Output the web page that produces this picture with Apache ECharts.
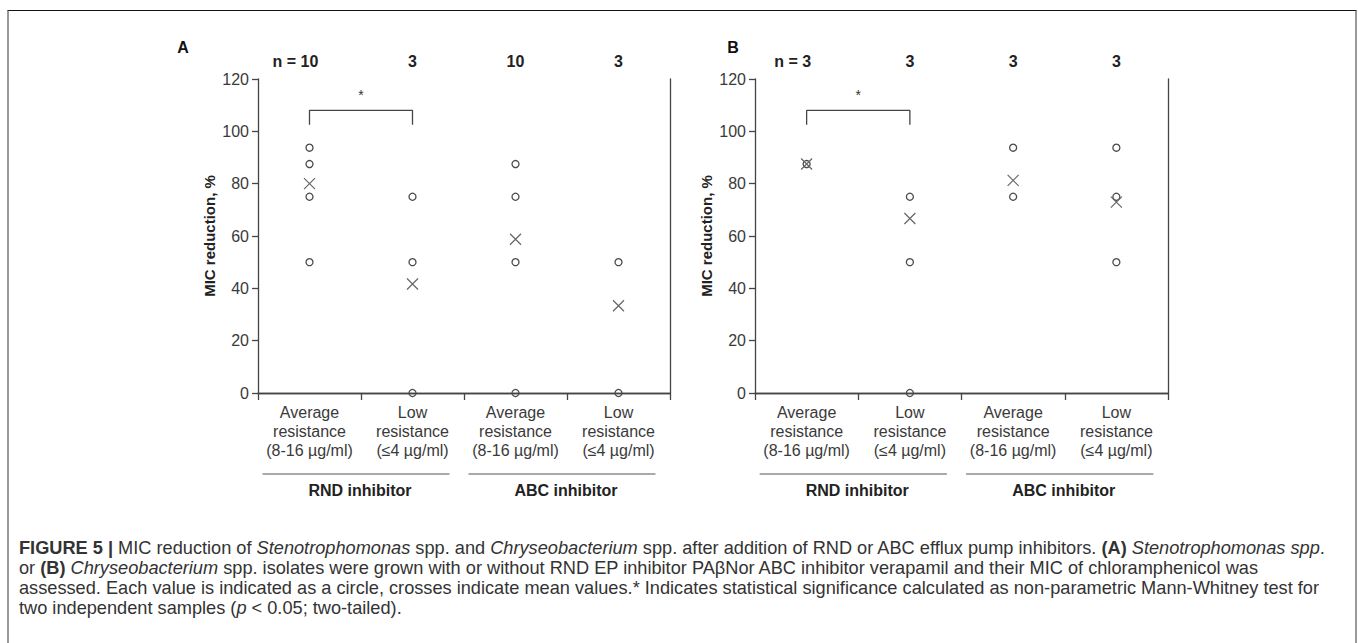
<!DOCTYPE html>
<html>
<head>
<meta charset="utf-8">
<script src="https://cdn.jsdelivr.net/npm/echarts@6.0.0/dist/echarts.min.js"></script>
<style>
  html, body { margin: 0; padding: 0; background: #fff; }
  #chart { position: absolute; left: 0; top: 0; width: 1358px; height: 643px; }
  #frame { position: absolute; left: 7px; top: 10px; width: 1346px; height: 650px;
           border-top: 1px solid #111; border-left: 2px solid #999; border-right: 2px solid #999;
           pointer-events: none; }
  #caption { position: absolute; left: 19px; top: 538px; font-family: 'Liberation Sans', Arial, sans-serif;
             font-size: 18.2px; line-height: 20px; color: #333; white-space: nowrap; }
</style>
</head>
<body>
<div id="chart"></div>
<div id="frame"></div>
<div id="caption">
<b>FIGURE 5 |</b> MIC reduction of <i>Stenotrophomonas</i> spp. and <i>Chryseobacterium</i> spp. after addition of RND or ABC efflux pump inhibitors. <b>(A)</b> <i>Stenotrophomonas spp</i>.<br>
or <b>(B)</b> <i>Chryseobacterium</i> spp. isolates were grown with or without RND EP inhibitor PAβNor ABC inhibitor verapamil and their MIC of chloramphenicol was<br>
assessed. Each value is indicated as a circle, crosses indicate mean values.* Indicates statistical significance calculated as non-parametric Mann-Whitney test for<br>
two independent samples (<i>p</i> &lt; 0.05; two-tailed).
</div>
<script>
// ---------- data ----------
const categories = [
  'Average\nresistance\n(8-16 µg/ml)',
  'Low\nresistance\n(≤4 µg/ml)',
  'Average\nresistance\n(8-16 µg/ml)',
  'Low\nresistance\n(≤4 µg/ml)'
];
const groupLabels = ['RND inhibitor', 'ABC inhibitor'];
const nPrefix = 'n = ';
const nA = ['10', '3', '10', '3'];
const nB = ['3', '3', '3', '3'];
const yTicks = { min: 0, max: 120, interval: 20 };
const yName = 'MIC reduction, %';
const panelLetters = ['A', 'B'];

// individual isolate values per category (MIC reduction, %)
const pointsA = [[93.75, 87.5, 75, 50], [75, 50, 0], [87.5, 75, 50, 0], [50, 0]];
const meansA = [80, 41.67, 58.75, 33.33];
const pointsB = [[87.5], [75, 50, 0], [93.75, 75], [93.75, 75, 50]];
const meansB = [87.5, 66.67, 81.25, 72.92];

// significance bracket between categories 0 and 1
const sigFrom = 0, sigTo = 1;
const sigTop = 108, sigFoot = 102.5, sigMarkY = 114, sigMark = '*';

// ---------- chart ----------
const chart = echarts.init(document.getElementById('chart'), null, { renderer: 'svg' });
const axisColor = '#444';
const font = "'Liberation Sans', Arial, sans-serif";
const grids = [
  { left: 258, top: 79, width: 412, height: 314 },
  { left: 755, top: 79, width: 413, height: 314 }
];
const panels = [
  { n: nA, pts: pointsA, means: meansA },
  { n: nB, pts: pointsB, means: meansB }
];

const xAxes = [], yAxes = [], series = [];
panels.forEach((p, i) => {
  xAxes.push({
    gridIndex: i, type: 'category', data: categories, position: 'bottom',
    axisLine: { lineStyle: { color: axisColor, width: 1.3 } },
    axisTick: { show: true, length: 7, lineStyle: { color: axisColor, width: 1.3 } },
    axisLabel: { interval: 0, fontSize: 16, lineHeight: 19, color: '#3a3a3a', margin: 10, fontFamily: font },
    splitLine: { show: false }
  });
  xAxes.push({
    gridIndex: i, type: 'category', data: p.n, position: 'top',
    axisLine: { lineStyle: { color: axisColor, width: 1.3 } },
    axisTick: { show: false },
    axisLabel: {
      interval: 0, fontSize: 16, fontWeight: 'bold', color: '#222', margin: 10, fontFamily: font,
      formatter: (v, idx) => idx === 0 ? '{p|' + nPrefix + '}' + v + '{q|}' : v,
      rich: {
        p: { fontSize: 16, fontWeight: 'bold', color: '#222', fontFamily: font },
        q: { width: 28 }
      }
    },
    splitLine: { show: false }
  });
  yAxes.push({
    gridIndex: i, type: 'value', position: 'left', min: yTicks.min, max: yTicks.max, interval: yTicks.interval,
    name: yName, nameLocation: 'middle', nameGap: 41,
    nameTextStyle: { fontSize: 15, fontWeight: 'bold', color: '#222', fontFamily: font },
    axisLine: { show: true, lineStyle: { color: axisColor, width: 1.3 } },
    axisTick: { show: true, length: 6, lineStyle: { color: axisColor, width: 1.3 } },
    axisLabel: { fontSize: 16, color: '#3a3a3a', margin: 9, fontFamily: font },
    splitLine: { show: false }
  });
  yAxes.push({
    gridIndex: i, type: 'value', position: 'right', min: yTicks.min, max: yTicks.max, interval: yTicks.interval,
    axisLine: { show: true, lineStyle: { color: axisColor, width: 1.3 } },
    axisTick: { show: false }, axisLabel: { show: false }, splitLine: { show: false }
  });

  const circ = [];
  p.pts.forEach((arr, c) => arr.forEach(v => circ.push([c, v])));
  series.push({
    type: 'scatter', xAxisIndex: 2 * i, yAxisIndex: 2 * i, data: circ,
    symbol: 'circle', symbolSize: 7,
    itemStyle: { color: 'rgba(255,255,255,0)', borderColor: '#4a4a4a', borderWidth: 1.3, opacity: 1 },
    silent: true, z: 3, clip: false
  });
  series.push({
    type: 'scatter', xAxisIndex: 2 * i, yAxisIndex: 2 * i,
    data: p.means.map((v, c) => [c, v]),
    symbol: 'path://M0,0L10,10M10,0L0,10', symbolSize: 11,
    itemStyle: { color: 'rgba(0,0,0,0)', borderColor: '#666', borderWidth: 1.2, opacity: 1 },
    silent: true, z: 4
  });
  series.push({
    type: 'line', xAxisIndex: 2 * i, yAxisIndex: 2 * i,
    data: [[sigFrom, sigFoot], [sigFrom, sigTop], [sigTo, sigTop], [sigTo, sigFoot]],
    symbol: 'none', lineStyle: { color: '#444', width: 1.3 }, silent: true, animation: false
  });
});

chart.setOption({
  animation: false,
  grid: grids,
  xAxis: xAxes,
  yAxis: yAxes,
  series: series
});

// annotations positioned through the axes
const graphics = [];
panels.forEach((p, i) => {
  const cx = k => chart.convertToPixel({ xAxisIndex: 2 * i }, k);
  const py = v => chart.convertToPixel({ yAxisIndex: 2 * i }, v);
  const bottom = py(yTicks.min);
  graphics.push({
    type: 'text', x: (cx(sigFrom) + cx(sigTo)) / 2, y: py(sigMarkY), silent: true,
    style: { text: sigMark, fill: '#333', align: 'center', verticalAlign: 'middle', font: '14px ' + font }
  });
  groupLabels.forEach((g, gi) => {
    const a = cx(2 * gi), b = cx(2 * gi + 1);
    graphics.push({
      type: 'line', silent: true,
      shape: { x1: a - 47, y1: bottom + 81, x2: b + 37, y2: bottom + 81 },
      style: { stroke: '#555', lineWidth: 1 }
    });
    graphics.push({
      type: 'text', silent: true, x: (a + b) / 2 - 1, y: bottom + 97,
      style: { text: g, fill: '#222', align: 'center', verticalAlign: 'middle', font: 'bold 16px ' + font }
    });
  });
});
graphics.push({ type: 'text', x: 183, y: 47, silent: true,
  style: { text: panelLetters[0], fill: '#111', align: 'center', verticalAlign: 'middle', font: 'bold 16px ' + font } });
graphics.push({ type: 'text', x: 733, y: 47, silent: true,
  style: { text: panelLetters[1], fill: '#111', align: 'center', verticalAlign: 'middle', font: 'bold 16px ' + font } });
chart.setOption({ graphic: graphics });
</script>
</body>
</html>
